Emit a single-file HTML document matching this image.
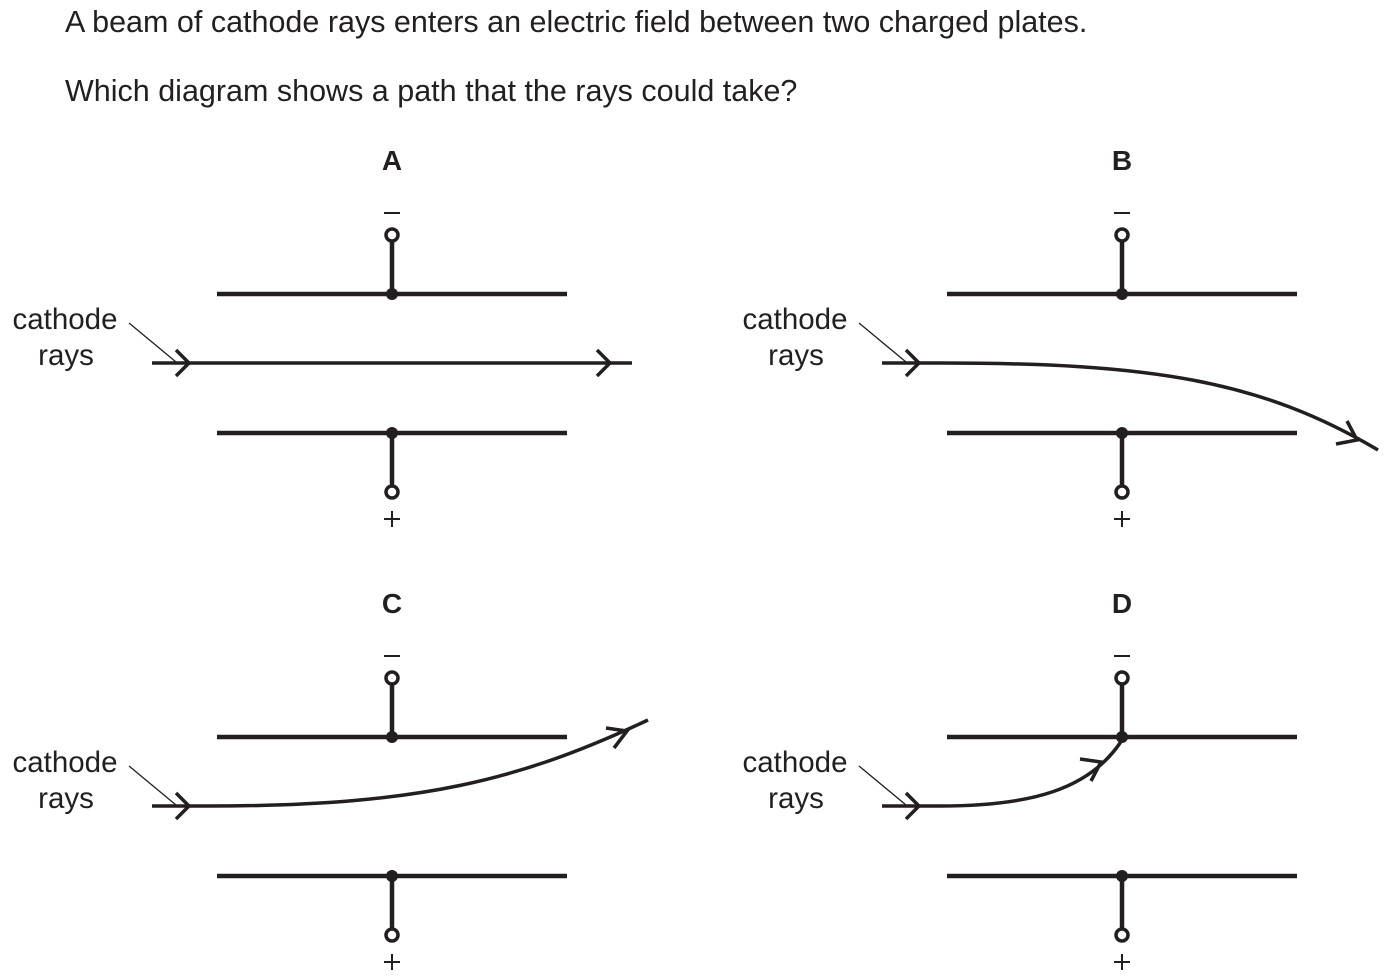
<!DOCTYPE html>
<html><head><meta charset="utf-8"><style>
html,body{margin:0;padding:0;background:#fff;}
svg{display:block;}
text{font-family:"Liberation Sans",Arial,sans-serif;fill:#231f20;}
</style></head><body>
<svg width="1390" height="980" viewBox="0 0 1390 980" xmlns="http://www.w3.org/2000/svg">
<defs>
<g id="plates" stroke="#231f20" fill="none">
  <line x1="217" y1="294" x2="567" y2="294" stroke-width="4.5"/>
  <line x1="217" y1="433" x2="567" y2="433" stroke-width="4.5"/>
  <line x1="392" y1="241" x2="392" y2="294" stroke-width="4.5"/>
  <line x1="392" y1="433" x2="392" y2="486" stroke-width="4.5"/>
  <circle cx="392" cy="235" r="6" stroke-width="3.5" fill="#fff"/>
  <circle cx="392" cy="492" r="6" stroke-width="3.5" fill="#fff"/>
  <circle cx="392" cy="294" r="6" fill="#231f20" stroke="none"/>
  <circle cx="392" cy="433" r="6" fill="#231f20" stroke="none"/>
  <line x1="384" y1="213" x2="400" y2="213" stroke-width="2"/>
  <line x1="384" y1="519" x2="400" y2="519" stroke-width="2"/>
  <line x1="392" y1="511" x2="392" y2="527" stroke-width="2"/>
  <line x1="129" y1="323" x2="176" y2="362" stroke-width="1.3"/>
  <polyline points="176,350 189,363 176,376" stroke-width="3.5"/>
</g>
<g id="lbl">
  <text x="65" y="329" font-size="29.5" text-anchor="middle">cathode</text>
  <text x="66" y="365" font-size="29.5" text-anchor="middle">rays</text>
</g>
</defs>
<text x="65" y="32" font-size="30.5">A beam of cathode rays enters an electric field between two charged plates.</text>
<text x="65" y="101" font-size="30.5">Which diagram shows a path that the rays could take?</text>

<text x="392" y="170" font-size="28" font-weight="bold" text-anchor="middle">A</text>
<text x="1122" y="170" font-size="28" font-weight="bold" text-anchor="middle">B</text>
<text x="392" y="613" font-size="28" font-weight="bold" text-anchor="middle">C</text>
<text x="1122" y="613" font-size="28" font-weight="bold" text-anchor="middle">D</text>

<use href="#plates"/><use href="#lbl"/>
<g stroke="#231f20" fill="none" stroke-width="3.5">
  <line x1="152" y1="363" x2="632" y2="363"/>
  <polyline points="597,350 610,363 597,376"/>
</g>
<g transform="translate(730,0)"><use href="#plates"/><use href="#lbl"/></g>
<g stroke="#231f20" fill="none" stroke-width="3.5">
  <path d="M882,363 L940,363 C1150,363 1260,380 1378,450"/>
  <polyline points="1347,421 1357,440 1336,444"/>
</g>
<g transform="translate(0,443)"><use href="#plates"/><use href="#lbl"/></g>
<g stroke="#231f20" fill="none" stroke-width="3.5">
  <path d="M152,806 L210,806 C420,806 520,780 648,720"/>
  <polyline points="606,728 627,731 614,748"/>
</g>
<g transform="translate(730,443)"><use href="#plates"/><use href="#lbl"/></g>
<g stroke="#231f20" fill="none" stroke-width="3.5">
  <path d="M882,806 L940,806 C1030,806 1090,790 1122,740"/>
  <polyline points="1080,759 1101,762 1091,781"/>
</g>
</svg>
</body></html>
